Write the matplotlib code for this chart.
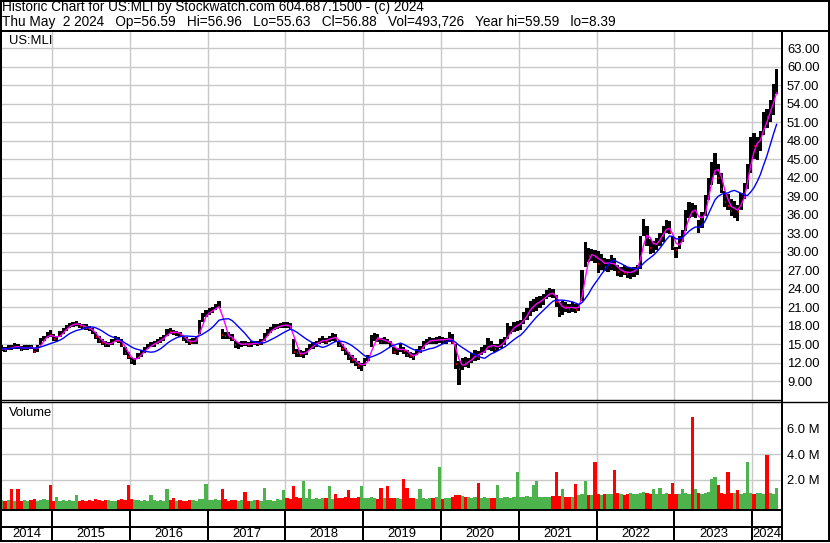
import matplotlib
matplotlib.use('Agg')
import matplotlib.pyplot as plt
import numpy as np
import pandas as pd

plt.rcParams['font.family'] = ['Liberation Sans', 'DejaVu Sans']
plt.rcParams['font.size'] = 9.4

W, H = 830, 543

# semi-monthly bars, May 2014 .. Apr 2024 (one row per year)
start_year = 2014 + 4 / 12
lows = [
    13.9, 13.8, 14.0, 14.1, 14.3, 14.2, 13.9, 14.0, 14.1, 14.2, 13.5, 13.8, 14.8, 15.6, 16.0, 16.2,
    15.6, 15.5, 16.2, 16.6, 17.2, 17.6, 17.8, 17.9, 17.6, 17.4, 17.3, 17.2, 16.6, 15.8, 15.2, 14.8, 14.6, 14.5, 14.8, 15.3, 15.2, 14.6, 13.2, 12.6,
    11.8, 11.6, 12.6, 13.0, 13.6, 14.2, 14.5, 14.6, 15.0, 15.2, 15.5, 16.3, 16.6, 16.5, 16.4, 16.1, 15.5, 15.2, 14.9, 15.0, 15.1, 16.6, 18.6, 19.4,
    19.8, 20.0, 20.5, 20.8, 15.9, 15.8, 15.9, 15.6, 14.4, 14.2, 14.6, 14.7, 14.5, 14.6, 14.8, 14.7, 14.9, 15.6, 16.3, 16.8, 17.3, 17.5, 17.6, 17.7,
    17.6, 17.3, 13.4, 12.9, 13.0, 12.8, 13.3, 14.0, 14.3, 14.6, 15.0, 15.2, 15.1, 15.3, 15.6, 15.4, 14.6, 13.9, 13.3, 12.5, 12.0, 11.5, 11.0, 10.7,
    11.4, 12.2, 14.6, 15.5, 15.4, 15.0, 15.1, 15.0, 14.6, 13.4, 13.3, 13.8, 13.4, 12.9, 12.7, 12.4, 13.2, 13.6, 14.3, 14.8, 15.0, 15.1, 15.0, 15.2,
    15.1, 15.0, 15.3, 15.0, 11.0, 8.4, 10.8, 11.3, 11.2, 12.0, 12.3, 12.5, 13.2, 13.5, 14.0, 13.9, 13.8, 13.9, 14.4, 14.8, 15.9, 16.6, 17.0, 17.2,
    17.3, 18.2, 19.0, 19.6, 20.3, 20.4, 20.8, 21.4, 22.4, 22.6, 22.5, 21.0, 19.4, 19.8, 20.2, 20.0, 20.3, 20.1, 20.4, 22.0, 27.5, 28.4, 28.5, 28.2,
    26.6, 27.0, 26.9, 26.7, 27.0, 26.8, 26.0, 25.9, 26.2, 25.8, 25.6, 25.9, 26.3, 27.2, 32.6, 31.0, 29.6, 29.8, 30.3, 31.0, 31.6, 33.0, 32.8, 30.2,
    29.0, 30.4, 31.5, 33.4, 35.5, 35.6, 35.4, 33.0, 33.8, 35.8, 38.4, 40.8, 42.4, 41.0, 39.5, 37.2, 36.7, 35.8, 35.5, 34.9, 36.8, 38.6, 40.2, 42.8,
    45.0, 44.9, 46.4, 48.9, 50.0, 51.0, 52.2, 55.6,
]
highs = [
    14.8, 14.6, 14.9, 14.9, 15.2, 15.0, 14.7, 14.8, 14.9, 14.9, 14.4, 14.9, 16.0, 16.4, 17.0, 17.3,
    16.6, 16.4, 17.1, 17.6, 18.1, 18.4, 18.6, 18.7, 18.4, 18.3, 18.2, 18.0, 17.6, 16.9, 16.4, 15.8, 15.6, 15.4, 15.9, 16.3, 16.2, 15.8, 14.6, 13.8,
    13.0, 12.8, 13.6, 14.0, 14.6, 15.1, 15.3, 15.5, 15.9, 16.2, 16.5, 17.4, 17.6, 17.3, 17.2, 17.0, 16.4, 16.1, 15.8, 16.0, 16.2, 19.0, 20.0, 20.6,
    20.8, 21.0, 21.6, 22.0, 17.4, 17.0, 16.9, 16.7, 15.6, 15.4, 15.6, 15.6, 15.4, 15.5, 15.6, 15.5, 15.9, 16.8, 17.4, 17.8, 18.2, 18.3, 18.5, 18.6,
    18.6, 18.4, 15.8, 14.2, 14.1, 13.9, 14.4, 15.0, 15.4, 15.6, 16.0, 16.3, 16.0, 16.4, 16.8, 16.6, 15.6, 15.0, 14.4, 13.7, 13.2, 12.7, 12.2, 11.9,
    12.8, 13.3, 16.5, 16.8, 16.6, 16.0, 16.1, 15.9, 15.6, 14.6, 14.4, 15.0, 14.6, 14.0, 13.8, 13.5, 14.3, 14.7, 15.5, 15.9, 16.1, 16.0, 16.1, 16.3,
    16.2, 16.0, 16.9, 16.6, 15.0, 12.2, 12.8, 12.9, 12.7, 13.6, 14.0, 13.9, 14.6, 14.8, 16.0, 15.6, 15.0, 15.1, 15.8, 16.1, 18.5, 18.0, 18.6, 18.8,
    18.9, 20.2, 20.8, 22.0, 22.3, 22.6, 22.8, 23.2, 23.8, 24.1, 24.0, 23.0, 21.8, 22.0, 21.8, 21.6, 21.8, 21.5, 21.6, 27.0, 31.6, 30.6, 30.4, 30.2,
    30.1, 29.6, 29.0, 28.8, 29.4, 28.9, 27.8, 27.6, 27.8, 27.5, 27.4, 27.6, 27.8, 32.5, 35.3, 34.2, 32.0, 31.8, 32.3, 33.0, 34.2, 35.1, 35.0, 32.6,
    30.8, 32.6, 33.6, 36.8, 38.0, 37.9, 37.6, 35.2, 36.5, 39.2, 42.0, 44.6, 46.0, 44.2, 42.8, 39.8, 39.4, 38.6, 38.2, 37.6, 39.6, 41.2, 44.2, 48.6,
    49.2, 48.6, 49.6, 52.6, 53.2, 54.6, 57.2, 59.6,
]
closes = [
    14.3, 14.1, 14.5, 14.4, 14.8, 14.5, 14.1, 14.4, 14.6, 14.5, 13.8, 14.6, 15.8, 16.1, 16.6, 16.5,
    15.8, 16.2, 16.9, 17.4, 17.9, 18.2, 18.3, 18.4, 17.9, 17.8, 17.6, 17.5, 16.9, 16.1, 15.5, 15.2, 14.9, 15.0, 15.6, 15.9, 15.6, 14.8, 13.5, 12.9,
    12.2, 12.6, 13.3, 13.8, 14.3, 14.8, 14.9, 15.3, 15.6, 15.9, 16.3, 17.1, 17.0, 16.8, 17.0, 16.4, 15.7, 15.5, 15.2, 15.6, 15.9, 18.7, 19.6, 20.2,
    20.4, 20.6, 21.2, 21.5, 16.5, 16.4, 16.2, 15.9, 14.8, 14.9, 15.2, 15.0, 14.9, 15.2, 15.3, 15.0, 15.6, 16.5, 17.1, 17.5, 17.8, 17.9, 18.1, 18.2,
    18.0, 17.6, 13.8, 13.5, 13.3, 13.6, 14.1, 14.7, 15.1, 15.3, 15.5, 15.9, 15.4, 16.1, 16.4, 15.8, 14.9, 14.2, 13.7, 12.9, 12.4, 12.0, 11.4, 11.5,
    12.4, 12.9, 16.0, 16.2, 15.9, 15.4, 15.7, 15.3, 14.9, 13.8, 14.0, 14.6, 13.9, 13.3, 13.1, 12.9, 14.0, 14.4, 15.2, 15.6, 15.7, 15.5, 15.7, 15.9,
    15.6, 15.7, 16.3, 15.2, 11.8, 10.9, 12.2, 11.9, 12.4, 13.1, 13.6, 13.0, 14.1, 14.3, 15.3, 14.6, 14.3, 14.8, 15.4, 15.8, 17.2, 17.6, 18.1, 18.3,
    18.4, 19.8, 20.4, 21.3, 21.6, 21.8, 22.2, 22.7, 23.2, 23.5, 23.1, 21.8, 20.3, 21.2, 21.0, 20.7, 21.2, 20.6, 21.2, 26.4, 29.7, 29.3, 29.6, 29.1,
    28.0, 28.7, 27.6, 28.2, 28.5, 27.4, 26.7, 27.0, 26.6, 26.4, 26.9, 27.2, 27.4, 31.8, 34.0, 32.2, 30.6, 31.2, 31.8, 32.6, 33.8, 34.4, 33.2, 30.8,
    30.2, 32.2, 33.0, 36.2, 37.0, 36.4, 36.8, 33.8, 35.9, 38.6, 41.4, 43.8, 44.2, 42.0, 40.2, 38.0, 37.4, 36.6, 37.2, 36.4, 39.1, 40.6, 43.6, 47.6,
    47.2, 47.9, 49.1, 52.0, 51.8, 53.9, 56.5, 56.9,
]
# volume, millions of shares
volumes = [
    0.42, 0.38, 0.45, 1.3, 0.40, 1.3, 0.36, 0.44, 0.38, 0.42, 0.50, 0.40, 0.46, 0.52, 0.44, 1.6,
    0.40, 0.70, 0.36, 0.42, 0.38, 0.45, 0.40, 0.85, 0.36, 0.42, 0.38, 0.46, 0.40, 0.52, 0.44, 0.38, 0.42, 0.48, 0.40, 0.36, 0.44, 0.50, 0.46, 1.6,
    0.55, 0.48, 0.44, 0.40, 0.46, 0.38, 0.85, 0.42, 0.36, 0.44, 0.40, 1.3, 0.42, 0.60, 0.38, 0.44, 0.40, 0.36, 0.42, 0.46, 0.40, 0.55, 0.50, 1.7,
    0.42, 0.46, 0.50, 0.44, 1.3, 0.52, 0.40, 0.46, 0.42, 0.38, 0.44, 1.1, 0.40, 0.36, 0.42, 0.46, 0.40, 1.4, 0.44, 0.42, 0.38, 0.50, 0.46, 1.2,
    0.60, 0.55, 1.5, 0.70, 0.62, 1.9, 0.58, 1.3, 0.52, 0.60, 0.56, 0.64, 0.58, 1.5, 0.55, 0.90, 0.62, 0.58, 0.66, 1.2, 0.60, 0.64, 0.70, 1.5,
    0.62, 0.58, 0.70, 0.60, 0.56, 1.4, 0.62, 1.5, 0.58, 0.64, 0.60, 0.56, 2.1, 1.4, 0.58, 0.62, 0.56, 1.3, 0.60, 0.54, 0.58, 0.62, 0.66, 3.0,
    0.56, 0.60, 0.64, 0.72, 0.85, 0.80, 0.76, 0.72, 0.68, 0.64, 0.70, 1.8, 0.62, 0.66, 0.60, 0.58, 0.64, 1.6, 0.62, 0.66, 0.70, 0.64, 0.68, 2.6,
    0.66, 0.70, 0.74, 0.68, 1.6, 1.9, 0.70, 0.66, 0.72, 0.68, 0.74, 2.6, 0.76, 1.3, 0.70, 0.66, 0.72, 1.7, 0.80, 0.90, 1.9, 0.86, 0.80, 3.4,
    0.90, 0.86, 0.94, 0.88, 0.92, 2.8, 0.96, 0.90, 0.86, 0.92, 0.98, 0.94, 0.88, 1.00, 1.10, 0.96, 0.90, 1.3, 0.88, 1.4, 0.92, 0.96, 0.90, 1.8,
    0.94, 0.88, 1.3, 0.96, 0.92, 6.9, 1.3, 0.98, 0.94, 1.00, 1.05, 2.1, 2.2, 1.6, 0.98, 0.94, 2.6, 1.00, 0.96, 1.2, 0.92, 0.98, 3.4, 0.96,
    0.94, 1.00, 0.96, 0.92, 3.9, 0.98, 0.94, 1.4,
]

years = list(range(2014, 2025))
price_ticks = np.arange(9, 64, 3)
vol_ticks = [2, 4, 6]
title1 = 'Historic Chart for US:MLI by Stockwatch.com 604.687.1500 - (c) 2024'
title2 = ('Thu May  2 2024   Op=56.59   Hi=56.96   Lo=55.63   Cl=56.88   '
          'Vol=493,726   Year hi=59.59   lo=8.39')

lows = np.array(lows); highs = np.array(highs); closes = np.array(closes)
volumes = np.array(volumes)
t = start_year + (np.arange(len(closes)) + 0.5) / 24
ma_fast = pd.Series(closes).rolling(3, min_periods=1).mean()
ma_slow = pd.Series(closes).rolling(10, min_periods=1).mean()
up = np.r_[True, closes[1:] >= closes[:-1]]


def px_year(x):
    return 2015 + (x - 52) / 77.81


def px_price(y):
    return 60 - (y - 66.7) / 6.167


def px_vol(y):
    return (505.8 - y) / 12.9


def box(x0, y0, x1, y1):
    return [x0 / W, 1 - y1 / H, (x1 - x0) / W, (y1 - y0) / H]


fig = plt.figure(figsize=(W / 100, H / 100), dpi=100)
xlo, xhi = px_year(1), px_year(781)
grid_c = '#c8c8c8'

ax_p = fig.add_axes(box(1, 32, 781, 399.5))
ax_v = fig.add_axes(box(1, 402.5, 781, 509.5))
ax_d = fig.add_axes(box(1, 510, 781, 541))

for ax in (ax_p, ax_v):
    ax.set_xlim(xlo, xhi)
    ax.set_xticks(years[1:])
    ax.set_xticklabels([])
    ax.tick_params(axis='x', length=0)
    ax.yaxis.tick_right()
    ax.tick_params(axis='y', length=0, pad=4.3, labelsize=9.4)
    ax.grid(True, color=grid_c, lw=1.0)
    ax.set_axisbelow(True)
    for s in ax.spines.values():
        s.set_visible(False)

# price panel
ax_p.set_ylim(px_price(399.5), px_price(32))
ax_p.set_yticks(price_ticks)
ax_p.set_yticklabels(['%.2f' % v for v in price_ticks])
ax_p.bar(t, highs - lows, bottom=lows, width=1 / 24, color='black', linewidth=0, zorder=3)
down = ~up
ax_p.hlines(closes[down], t[down], t[down] + 1 / 80, colors='red', lw=1.2, zorder=4)
ax_p.plot(t, ma_fast, color='#ff00ff', lw=1.0, zorder=5)
ax_p.plot(t, ma_slow, color='#0000ff', lw=1.0, zorder=5)

# volume panel
vmin = px_vol(509.5)
ax_v.set_ylim(vmin, px_vol(402.5))
ax_v.set_yticks(vol_ticks)
ax_v.set_yticklabels(['%.1f M' % v for v in vol_ticks])
vcol = np.where(up, '#4db34d', '#ff0000')
ax_v.bar(t, volumes - vmin, bottom=vmin, width=1 / 24, color=vcol, linewidth=0, zorder=3)

# year strip
ax_d.set_xlim(xlo, xhi)
ax_d.set_ylim(0, 31)
ax_d.axis('off')
ax_d.vlines(years[1:], 0, 31, color='black', lw=1.44)
for y in years:
    c = (max(y, xlo) + min(y + 1, xhi)) / 2
    ax_d.text(c, 7, str(y), ha='center', va='center', fontsize=9.4)

# frame lines and header, in pixel coordinates
fr = fig.add_axes([0, 0, 1, 1])
fr.set_xlim(0, W)
fr.set_ylim(H, 0)
fr.axis('off')
fr.patch.set_alpha(0)
k = dict(color='black', solid_capstyle='butt')
fr.plot([0.7, 0.7], [0, 542], lw=1.44, **k)
fr.plot([0, 829], [0.7, 0.7], lw=1.44, **k)
fr.plot([828.5, 828.5], [0, 542], lw=1.44, **k)
fr.plot([0, 829], [541, 541], lw=1.44, **k)
fr.plot([0, 829], [31, 31], lw=1.44, **k)
fr.plot([781.5, 781.5], [31, 541], lw=1.44, **k)
fr.plot([0, 781], [400, 400], lw=1.0, **k)
fr.plot([0, 829], [402.3, 402.3], lw=1.0, **k)
fr.plot([0, 781], [510, 510], lw=1.44, **k)
fr.plot([0, 781], [527, 527], lw=1.44, **k)
fr.text(2, 7.5, title1, va='center', ha='left', fontsize=9.8)
fr.text(2, 22, title2, va='center', ha='left', fontsize=9.8)
fr.text(9, 41, 'US:MLI', va='center', ha='left', fontsize=9.4)
fr.text(9, 413, 'Volume', va='center', ha='left', fontsize=9.4)

fig.savefig('out.png', dpi=100)
